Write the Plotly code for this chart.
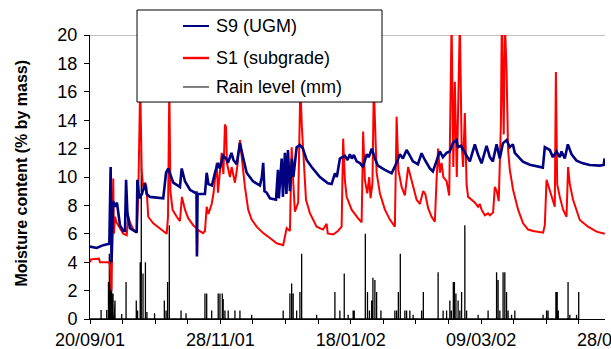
import plotly.graph_objects as go

# x = reading day index counted from 20/09/01 (one axis tick every 15 units)
s9_x = [0, 3.1, 6.1, 8.9, 9.5, 9.9, 10.6, 11.5, 12.4, 13.8, 15.3, 16.1, 16.6, 17.2, 18.4, 21.5, 21.8,
        22.7, 23.9, 25.3, 26.1, 27.6, 33.7, 35.0, 36.0, 38.3, 41.4, 42.2, 43.7, 46.0, 48.3, 49.0,
        49.2, 49.5, 52.9, 53.7, 54.5, 56.1, 57.5, 58.9, 59.8, 61.2, 62.6, 63.5, 65.1, 66.0, 67.5,
        69.0, 70.4, 72.1, 75.0, 78.2, 79.1, 79.7, 80.3, 81.3, 82.8, 85.6, 86.5, 86.9, 88.2, 88.8,
        89.7, 90.4, 91.1, 92.0, 92.9, 93.6, 95.1, 96.6, 98.0, 99.7, 102.0, 105.8, 109.5, 111.2,
        112.7, 113.6, 115.0, 117.3, 118.5, 119.6, 120.5, 121.4, 122.7, 124.2, 125.6, 127.3, 128.3,
        129.7, 131.1, 132.5, 135.7, 138.8, 141.1, 142.6, 144.0, 145.7, 147.2, 148.6, 150.9, 152.6,
        154.1, 156.4, 157.8, 159.5, 161.0, 162.4, 164.1, 165.6, 167.0, 168.7, 169.3, 170.7, 172.5,
        174.8, 177.1, 178.5, 180.2, 182.5, 184.0, 185.4, 187.1, 188.6, 190.0, 191.7, 193.2, 194.6,
        195.5, 196.9, 199.2, 202.4, 205.5, 208.4, 209.3, 211.6, 213.0, 214.7, 216.2, 217.0, 218.5,
        219.9, 221.6, 223.9, 226.8, 230.0, 234.6, 236.4, 236.8]
s9_y = [5.1, 5.0, 5.2, 5.3, 10.7, 4.0, 8.3, 7.9, 8.2, 6.6, 6.2, 6.2, 9.8, 7.5, 6.4, 6.1, 9.8,
        8.5, 8.8, 9.55, 8.8, 8.6, 8.5, 10.3, 10.6, 9.6, 9.3, 10.6, 9.7, 9.1, 8.9, 8.9,
        4.4, 8.8, 8.8, 10.3, 9.5, 9.4, 10.3, 11.0, 10.6, 11.5, 11.3, 11.0, 11.7, 11.2, 10.9,
        12.4, 11.4, 10.3, 9.7, 9.4, 10.0, 11.0, 9.0, 8.9, 8.5, 8.4, 10.5, 8.5, 11.3, 8.6,
        11.7, 8.8, 11.9, 9.0, 11.3, 10.0, 12.1, 12.25, 12.0, 11.2, 10.7, 10.0, 9.55, 9.5,
        10.26, 10.0, 11.3, 11.5, 11.2, 11.6, 11.3, 11.55, 11.1, 10.98, 10.7, 11.6, 11.4,
        12.0, 11.3, 10.8, 10.5, 10.26, 11.0, 11.6, 11.3, 11.9, 11.5, 11.1, 10.9, 11.67,
        11.2, 10.6, 10.4, 11.2, 11.8, 11.4, 11.7, 11.8, 12.4, 12.6, 12.1, 12.2, 11.67,
        11.1, 12.3, 11.6, 10.96, 12.2, 11.4, 11.1, 12.3, 11.3, 12.37, 12.6, 12.1, 12.3,
        11.7, 11.45, 11.08, 10.86, 10.75, 10.66, 12.1, 11.9, 11.4, 11.8, 11.4, 11.8, 11.3,
        12.3, 11.6, 11.15, 10.96, 10.85, 10.8, 10.85, 11.3]

s1_x = [0, 0.5, 4.1, 4.6, 8.7, 9.2, 9.9, 10.7, 11.0, 11.5, 12.2, 13.0, 15.3, 16.9, 17.6, 18.4,
        19.9, 21.5, 22.2, 23.1, 23.8, 24.4, 25.3, 26.0, 26.8, 29.1, 32.2, 35.3, 35.9, 36.5, 37.0,
        38.0, 39.9, 41.4, 42.3, 43.7, 45.2, 47.5, 49.1, 49.3, 49.5, 52.0, 52.9, 53.7, 54.5, 56.0,
        56.8, 58.3, 58.9, 60.6, 61.4, 62.1, 62.6, 63.0, 64.4, 65.2, 66.7, 67.6, 69.0, 69.8, 70.4,
        71.3, 72.8, 74.4, 76.7, 79.7, 82.8, 85.9, 88.9, 89.7, 90.5, 92.0, 92.8, 93.4, 94.3, 95.8,
        96.8, 97.5, 99.4, 101.2, 104.3, 107.2, 108.9, 109.4, 111.9, 114.1, 115.8, 116.5, 117.3,
        118.1, 120.4, 123.3, 125.0, 125.7, 126.5, 127.6, 128.5, 129.1, 130.0, 130.6, 131.9,
        133.4, 135.7, 138.0, 140.3, 141.1, 141.9, 143.4, 144.9, 146.4, 148.0, 150.3, 151.8,
        153.3, 154.3, 155.6, 157.2, 158.7, 159.5, 160.2, 161.0, 161.8, 162.6, 164.1, 165.3,
        166.4, 167.2, 167.9, 168.8, 170.2, 171.0, 171.7, 172.5, 173.3, 174.0, 175.6, 177.1,
        178.6, 179.4, 180.2, 181.7, 183.2, 184.0, 185.5, 186.3, 187.2, 188.1, 189.1, 189.5,
        190.4, 190.9, 191.7, 192.0, 192.4, 193.2, 194.7, 197.0, 199.3, 201.6, 203.9, 208.5,
        209.3, 210.1, 211.6, 213.1, 213.9, 214.4, 215.0, 216.2, 217.7, 219.3, 220.0, 220.8,
        222.3, 225.4, 229.2, 233.1, 236.9]
s1_y = [4.0, 4.2, 4.25, 4.0, 4.0, 3.8, 2.0, 9.9, 6.0, 7.2, 6.8, 6.6, 6.0, 5.9, 7.2, 6.8,
        6.3, 6.1, 8.6, 16.5, 10.5, 9.3, 9.6, 9.3, 7.2, 6.74, 6.4, 6.0, 7.2, 16.5, 9.0,
        7.7, 7.2, 6.9, 8.6, 7.7, 7.1, 6.6, 6.4, 4.5, 6.3, 6.05, 6.2, 7.9, 7.4, 8.1,
        8.8, 11.0, 8.9, 11.7, 10.2, 13.7, 13.5, 11.0, 10.0, 10.7, 9.6, 10.5, 12.6, 11.4, 11.0,
        9.3, 7.7, 7.0, 6.5, 6.05, 5.7, 5.33, 5.2, 5.9, 6.4, 6.2, 12.1, 10.0, 7.55, 8.2,
        16.5, 13.5, 8.4, 7.45, 6.5, 6.3, 6.7, 6.03, 5.95, 6.2, 6.5, 12.7, 9.8,
        8.6, 7.7, 7.1, 6.8, 13.2, 9.8, 8.85, 10.0, 8.5, 9.6, 16.5, 10.3,
        8.85, 7.7, 7.0, 6.5, 14.25, 10.5, 9.3, 8.7, 10.7, 9.8, 8.4, 8.1,
        9.0, 8.8, 7.8, 7.2, 6.85, 9.8, 12.0, 10.3, 11.0, 10.0, 9.7, 8.7,
        21.0, 10.7, 16.7, 10.0, 21.0, 12.4, 10.7, 14.5, 9.5, 8.6, 8.4, 8.2,
        7.9, 8.1, 7.7, 7.3, 7.44, 7.3, 7.5, 9.3, 9.0, 8.3, 13.8, 21.0,
        13.0, 21.0, 17.5, 14.0, 11.9, 10.5, 9.1, 7.7, 6.74, 6.3, 6.2, 6.08,
        6.6, 9.8, 9.0, 8.15, 7.9, 17.4, 9.5, 8.6, 7.7, 7.2, 10.7, 9.5,
        8.4, 6.97, 6.5, 6.15, 6.0]

rain_x = [5.1, 7.7, 8.5, 8.9, 9.3, 9.8, 10.1, 10.6, 11.2, 11.5, 14.6, 16.6, 21.3, 21.9, 23.1,
          23.6, 24.4, 25.5, 26.2, 29.7, 34.2, 35.0, 35.7, 36.5, 41.9, 44.2, 52.9, 53.7, 56.0,
          59.0, 59.8, 60.9, 61.3, 62.1, 63.6, 66.7, 69.0, 74.4, 88.9, 92.0, 92.8, 93.5, 95.1,
          96.6, 97.4, 104.3, 112.7, 115.0, 117.0, 118.8, 121.1, 121.6, 126.7, 127.7, 128.6,
          129.6, 130.2, 131.1, 131.9, 133.9, 140.3, 141.1, 141.9, 142.8, 144.9, 145.7, 147.2,
          148.7, 152.6, 153.4, 160.2, 162.5, 164.1, 165.6, 166.3, 167.2, 167.7, 168.4, 169.4,
          170.2, 171.0, 172.5, 173.3, 178.6, 183.2, 187.1, 187.8, 188.6, 190.1, 190.9, 191.7,
          192.4, 194.0, 195.5, 208.5, 210.1, 210.8, 214.4, 215.0, 215.5, 220.0, 220.8, 223.9,
          224.9]
rain_mm = [0.63, 0.63, 2.6, 4.6, 4.15, 3.9, 2.0, 1.8, 0.5, 1.3, 0.35, 2.6, 1.3, 0.6, 4.0,
           12.0, 3.2, 4.0, 0.5, 0.4, 1.3, 0.6, 2.6, 6.6, 0.6, 0.4, 1.8, 1.8, 0.6,
           1.8, 1.8, 1.8, 1.4, 0.6, 0.6, 0.6, 0.6, 0.3, 0.6, 1.8, 2.5, 1.8, 0.6,
           1.9, 4.6, 0.3, 1.9, 0.6, 3.2, 0.3, 0.6, 0.6, 6.0, 1.9, 0.6,
           1.3, 2.9, 2.75, 1.9, 0.6, 0.6, 0.6, 1.9, 4.6, 0.6, 0.6, 0.6,
           0.3, 0.6, 1.9, 3.3, 0.6, 0.6, 1.3, 0.6, 2.6, 2.6, 1.8, 1.3,
           0.6, 1.9, 6.6, 0.6, 0.3, 0.6, 3.3, 2.75, 0.6, 3.3, 3.3, 1.9,
           0.6, 0.3, 0.6, 0.3, 0.6, 0.6, 1.9, 1.9, 0.6, 2.6, 0.3, 0.3,
           1.9]

tick_labels = ["20/09/01", "28/11/01", "18/01/02", "09/03/02", "28/04/02"]
label_step = 60
tick_step = 15
x_max = 237
series_names = ["S9 (UGM)", "S1 (subgrade)", "Rain level (mm)"]
series_colors = ["#000080", "#FF0000", "#000000"]

FONT = "Liberation Sans, Arial, sans-serif"

# rain drawn as a line series returning to zero between readings
rx, ry = [0], [0]
for xv, mm in zip(rain_x, rain_mm):
    rx += [xv, xv, xv]
    ry += [0, mm, 0]

fig = go.Figure()
fig.add_trace(go.Scatter(x=rx, y=ry, mode="lines", line=dict(color=series_colors[2], width=1.3),
                         showlegend=False, hoverinfo="skip"))
fig.add_trace(go.Scatter(x=s1_x, y=s1_y, mode="lines", line=dict(color=series_colors[1], width=2),
                         showlegend=False))
fig.add_trace(go.Scatter(x=s9_x, y=s9_y, mode="lines", line=dict(color=series_colors[0], width=2.6),
                         showlegend=False))

tickvals = list(range(0, 226, tick_step))
ticktext = [tick_labels[v // label_step] if v % label_step == 0 else "" for v in tickvals]

fig.update_layout(
    width=611, height=349,
    margin=dict(l=90, r=6, t=35, b=30),
    paper_bgcolor="white", plot_bgcolor="white",
    font=dict(family=FONT, size=18, color="black"),
    xaxis=dict(range=[0, x_max], tickvals=tickvals, ticktext=ticktext, ticks="outside",
               ticklen=4, tickwidth=1, tickcolor="black", showline=True, linecolor="black",
               linewidth=1, showgrid=False, zeroline=False, tickfont=dict(size=18),
               automargin=False),
    xaxis2=dict(range=[0, x_max], overlaying="x", anchor="y", side="bottom", tickvals=tickvals,
                ticks="inside", ticklen=4, tickcolor="black", showticklabels=False,
                showline=False, showgrid=False, zeroline=False, automargin=False),
    yaxis=dict(range=[0, 20], dtick=2, ticks="outside", ticklen=5, tickcolor="black",
               showline=True, linecolor="black", linewidth=1, showgrid=False, zeroline=False,
               tickfont=dict(size=18), ticklabelstandoff=3, automargin=False),
)

# top reference line at 20
fig.add_shape(type="line", xref="paper", x0=0, x1=1, yref="y", y0=20, y1=20,
              line=dict(color="#808080", width=1), layer="below")

# continuation of the final date label, cut by the page edge (as in the original)
fig.add_annotation(x=240 / x_max, xref="paper", y=0, yref="paper", yshift=-21, text=tick_labels[-1],
                   showarrow=False, xanchor="center", yanchor="middle", font=dict(size=18))

# y-axis title
fig.add_annotation(x=-0.132, xref="paper", y=0.512, yref="paper", text="<b>Moisture content (% by mass)</b>",
                   textangle=-90, showarrow=False, font=dict(size=16), xanchor="center", yanchor="middle")

# legend box
fig.add_shape(type="rect", xref="paper", yref="paper", x0=0.0913, x1=0.567, y0=0.764, y1=1.088,
              fillcolor="white", line=dict(color="black", width=1), layer="above")
row_y = [1.0317, 0.919, 0.817]
line_w = [2, 2.4, 1]
for name, col, yy, lw in zip(series_names, series_colors, row_y, line_w):
    fig.add_shape(type="line", xref="paper", yref="paper", x0=0.1806, x1=0.2311, y0=yy, y1=yy,
                  line=dict(color=col, width=lw), layer="above")
    fig.add_annotation(x=0.2408, xref="paper", y=yy, yref="paper", text=name, showarrow=False,
                       xanchor="left", yanchor="middle", font=dict(size=18))

fig.write_html("out.html")
